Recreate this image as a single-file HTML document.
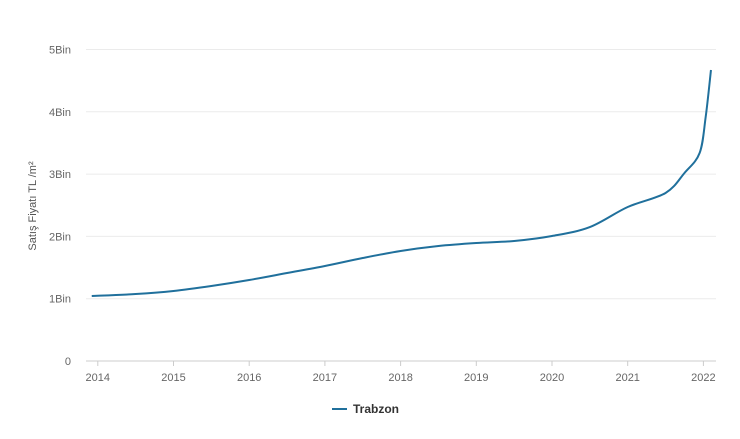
<!DOCTYPE html>
<html><head><meta charset="utf-8"><style>
body{margin:0;background:#fff;font-family:"Liberation Sans",sans-serif}
svg text{font-family:"Liberation Sans",sans-serif}
</style></head><body>
<svg id="chart" width="740" height="434" viewBox="0 0 740 434">
<g id="grid"></g><g id="yl"></g><g id="xl"></g>
<text transform="translate(36,206) rotate(-90)" text-anchor="middle" font-size="11" fill="#555">Satış Fiyatı TL /m²</text>
<path id="line" fill="none" stroke="#20709c" stroke-width="2"/>
<g>
<line x1="332" y1="409" x2="347" y2="409" stroke="#20709c" stroke-width="2"/>
<text x="353" y="413" font-size="12" font-weight="bold" fill="#333">Trabzon</text>
</g>
</svg>
<script>
const years=[2013.92,2014.5,2015,2015.5,2016,2016.5,2017,2017.5,2018,2018.5,2019,2019.5,2020,2020.5,2021,2021.5,2021.75,2021.95,2022.03,2022.1];
const values=[1043,1075,1124,1204,1300,1412,1525,1653,1766,1846,1894,1926,2006,2150,2472,2697,3018,3339,3916,4671];
const yTicks=[0,1000,2000,3000,4000,5000];
const yTickLabels=["0","1Bin","2Bin","3Bin","4Bin","5Bin"];
const xTicks=[2014,2015,2016,2017,2018,2019,2020,2021,2022];
const NS="http://www.w3.org/2000/svg";
const X=y=>173.5+(y-2015)*75.7, Y=v=>361-v*0.0623;
const g=document.getElementById('grid'),yl=document.getElementById('yl'),xl=document.getElementById('xl');
yTicks.forEach((t,i)=>{
 const l=document.createElementNS(NS,'line');
 
 
 l.setAttribute('x1',86);l.setAttribute('x2',716);l.setAttribute('y1',Y(t));l.setAttribute('y2',Y(t));
 l.setAttribute('stroke',t===0?'#ccc':'#ebebeb');l.setAttribute('stroke-width',1);
 g.appendChild(l);
 const tx=document.createElementNS(NS,'text');
 
 
 tx.setAttribute('x',71);tx.setAttribute('y',Y(t)+4);tx.setAttribute('text-anchor','end');
 tx.setAttribute('font-size','11');tx.setAttribute('fill','#666');tx.textContent=yTickLabels[i];
 yl.appendChild(tx);
});
xTicks.forEach(t=>{
 const l=document.createElementNS(NS,'line');
 
 
 l.setAttribute('x1',X(t));l.setAttribute('x2',X(t));l.setAttribute('y1',361);l.setAttribute('y2',366);
 l.setAttribute('stroke','#ccc');g.appendChild(l);
 const tx=document.createElementNS(NS,'text');
 
 
 tx.setAttribute('x',X(t));tx.setAttribute('y',381);tx.setAttribute('text-anchor','middle');
 tx.setAttribute('font-size','11');tx.setAttribute('fill','#666');tx.textContent=t;
 xl.appendChild(tx);
});
const pts=years.map((y,i)=>[X(y),Y(values[i])]);
let d='M'+pts[0][0]+','+pts[0][1];
for(let i=0;i<pts.length-1;i++){
 const p0=pts[Math.max(0,i-1)],p1=pts[i],p2=pts[i+1],p3=pts[Math.min(pts.length-1,i+2)];
 const c1=[p1[0]+(p2[0]-p0[0])/6,p1[1]+(p2[1]-p0[1])/6],c2=[p2[0]-(p3[0]-p1[0])/6,p2[1]-(p3[1]-p1[1])/6];
 d+=' C'+c1+' '+c2+' '+p2;
}
document.getElementById('line').setAttribute('d',d);
</script>
</body></html>
